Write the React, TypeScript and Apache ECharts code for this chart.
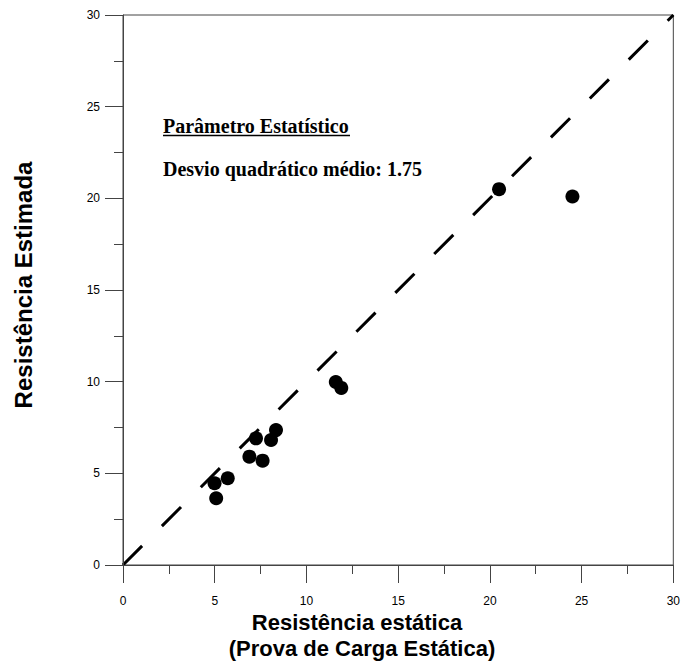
import React, { useEffect, useRef } from "react";
import * as echarts from "echarts";

const xValues = [20.5, 24.5, 11.6, 11.9, 8.34, 8.07, 7.25, 6.89, 7.61, 5.71, 4.99, 5.08];
const yValues = [20.5, 20.1, 9.98, 9.66, 7.36, 6.82, 6.91, 5.91, 5.69, 4.73, 4.46, 3.64];
const identityLine = [[0, 0], [30, 30]];
const axisMin = 0;
const axisMax = 30;
const axisInterval = 5;
const xTitleLines = ["Resistência estática", "(Prova de Carga Estática)"];
const yTitle = "Resistência Estimada";
const annotationTitle = "Parâmetro Estatístico";
const annotationText = "Desvio quadrático médio: 1.75";

const SANS = "'Liberation Sans', Arial, sans-serif";
const SERIF = "'Liberation Serif', 'Times New Roman', serif";

export default function App() {
  const ref = useRef<HTMLDivElement>(null);
  useEffect(() => {
    if (!ref.current) return;
    const chart = echarts.init(ref.current, null, { renderer: "svg" });
    const axisColor = "#444";
    const mkAxis = (isX: boolean) => ({
      type: "value",
      position: isX ? "bottom" : "left",
      min: axisMin,
      max: axisMax,
      interval: axisInterval,
      axisLine: { show: true, onZero: false, lineStyle: { color: axisColor, width: 1 } },
      axisTick: { show: true, inside: false, length: 18, lineStyle: { color: axisColor, width: 1 } },
      minorTick: { show: true, splitNumber: 2, length: 9, lineStyle: { color: axisColor, width: 1 } },
      splitLine: { show: false },
      axisLabel: {
        color: "#000",
        fontFamily: SANS,
        fontSize: 12,
        margin: isX ? 30 : 23,
      },
      z: 5,
    });
    const points = xValues.map((x, i) => [x, yValues[i]]);
    chart.setOption({
      animation: false,
      grid: {
        left: 123,
        top: 15,
        right: 7,
        bottom: 100,
        show: true,
        borderColor: axisColor,
        borderWidth: 1,
        backgroundColor: "transparent",
      },
      xAxis: mkAxis(true),
      yAxis: mkAxis(false),
      series: [
        {
          type: "line",
          data: identityLine,
          symbol: "none",
          lineStyle: { color: "#000", width: 3, type: [27, 28], cap: "butt" },
          z: 2,
        },
        {
          type: "scatter",
          data: points,
          symbol: "circle",
          symbolSize: 14,
          itemStyle: { color: "#000", opacity: 1 },
          z: 3,
        },
      ],
      graphic: [
        {
          type: "text",
          left: 163,
          top: 116,
          style: {
            text: annotationTitle,
            fontFamily: SERIF,
            fontWeight: "bold",
            fontSize: 20,
            fill: "#000",
          },
        },
        {
          type: "line",
          shape: { x1: 163, y1: 135.5, x2: 350, y2: 135.5 },
          style: { stroke: "#000", lineWidth: 1.3 },
        },
        {
          type: "text",
          left: 163,
          top: 159,
          style: {
            text: annotationText,
            fontFamily: SERIF,
            fontWeight: "bold",
            fontSize: 20,
            fill: "#000",
          },
        },
        {
          type: "text",
          x: 357,
          y: 622,
          style: {
            text: xTitleLines[0],
            fontFamily: SANS,
            fontWeight: "bold",
            fontSize: 22,
            fill: "#000",
            align: "center",
            verticalAlign: "middle",
          },
        },
        {
          type: "text",
          x: 362,
          y: 648,
          style: {
            text: xTitleLines[1],
            fontFamily: SANS,
            fontWeight: "bold",
            fontSize: 22,
            fill: "#000",
            align: "center",
            verticalAlign: "middle",
          },
        },
        {
          type: "text",
          x: 23,
          y: 285,
          rotation: Math.PI / 2,
          style: {
            text: yTitle,
            fontFamily: SANS,
            fontWeight: "bold",
            fontSize: 24,
            fill: "#000",
            align: "center",
            verticalAlign: "middle",
          },
        },
      ],
    });
    return () => chart.dispose();
  }, []);
  return (
    <div
      ref={ref}
      style={{ position: "fixed", left: 0, top: 0, width: 683, height: 665, background: "#fff" }}
    />
  );
}
